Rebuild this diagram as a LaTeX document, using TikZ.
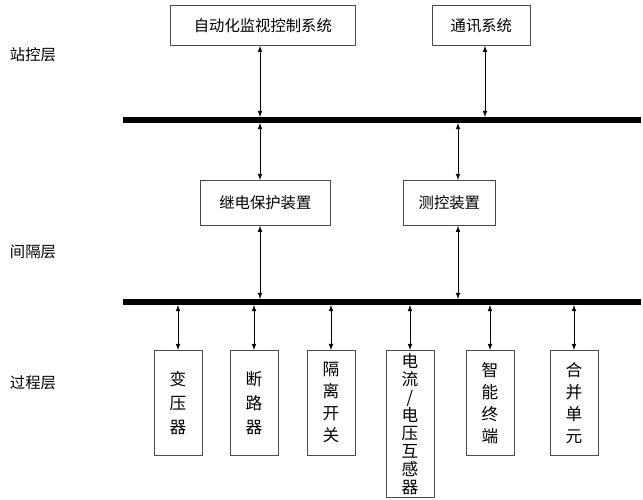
\documentclass[tikz,border=0pt]{standalone}
\usepackage{fontspec}
\newfontfamily\cjk{Noto Sans CJK SC}
\begin{document}
\begin{tikzpicture}[x=0.75pt,y=-0.75pt,font=\cjk\fontsize{11.5}{16}\selectfont,
  box/.style={draw=black!70,line width=0.6pt,inner sep=0pt},
  bus/.style={line width=4.5pt},
  arr/.style={<->,>=latex,line width=0.6pt}]
\useasboundingbox (0,0) rectangle (643,500);
\node[box,minimum width=138.75pt,minimum height=30pt,anchor=north west] (auto) at (170,5) {自动化监视控制系统};
\node[box,minimum width=73.5pt,minimum height=30pt,anchor=north west] (comm) at (432,5) {通讯系统};
\node[box,minimum width=97.5pt,minimum height=33.75pt,anchor=north west] (prot) at (200,180) {继电保护装置};
\node[box,minimum width=69pt,minimum height=33.75pt,anchor=north west] (meas) at (403,180) {测控装置};
\coordinate (b1l) at (123,120); \coordinate (b1r) at (641,120);
\coordinate (b2l) at (123,302); \coordinate (b2r) at (641,302);
\draw[bus] (b1l) -- (b1r);
\draw[bus] (b2l) -- (b2r);
\node at (33,55) (l1) {站控层};
\node at (33,252) (l2) {间隔层};
\node at (33,383) (l3) {过程层};
\coordinate (t1) at (260,117); \coordinate (t2) at (485,117);
\coordinate (m1) at (260,123); \coordinate (m2) at (458,123);
\coordinate (n1) at (260,299); \coordinate (n2) at (458,299);
\draw[arr] (auto.south -| t1) -- (t1);
\draw[arr] (comm.south -| t2) -- (t2);
\draw[arr] (m1) -- (prot.north -| m1);
\draw[arr] (m2) -- (meas.north -| m2);
\draw[arr] (prot.south -| n1) -- (n1);
\draw[arr] (meas.south -| n2) -- (n2);
\foreach \n/\x/\h/\b/\t in {p1/178/78.75pt/18/{变\\压\\器},p2/254/78.75pt/18/{断\\路\\器},p3/331/78.75pt/16.5/{隔\\离\\开\\关},p4/410/110pt/13.5/{电\\流\\/\\电\\压\\互\\感\\器},p5/490/78.75pt/16.5/{智\\能\\终\\端},p6/574/78.75pt/16.5/{合\\并\\单\\元}}{
  \node[box,minimum width=36pt,minimum height=\h,anchor=north,align=center,font=\cjk\fontsize{12.5}{\b}\selectfont] (\n) at (\x,350) {\t};
  \coordinate (c\n) at (\x,305);
  \draw[arr] (c\n) -- (\n.north);
}
\end{tikzpicture}
\end{document}
